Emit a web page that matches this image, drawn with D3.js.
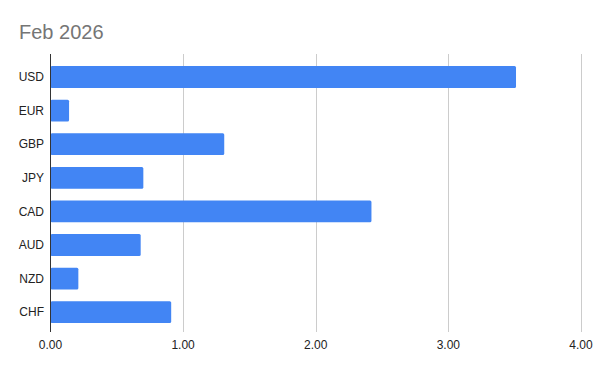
<!DOCTYPE html>
<html>
<head>
<meta charset="utf-8">
<script src="https://cdn.jsdelivr.net/npm/d3@7"></script>
<style>
  body { margin: 0; background: #fff; }
  svg { display: block; font-family: "Liberation Sans", Arial, sans-serif; }
</style>
</head>
<body>
<svg id="chart" width="600" height="371"></svg>
<script>
// currencies and values
var currencies = ["USD", "EUR", "GBP", "JPY", "CAD", "AUD", "NZD", "CHF"];
var values = [3.51, 0.14, 1.31, 0.70, 2.42, 0.68, 0.21, 0.91];
var xTicks = [0, 1, 2, 3, 4];

var svg = d3.select("#chart");

var x = d3.scaleLinear().domain([0, 4]).range([50.5, 581]);
var y = d3.scaleBand().domain(currencies).range([60.2, 329]).paddingInner(0.35).paddingOuter(0.175);

// title
svg.append("text")
    .attr("x", 19)
    .attr("y", 39)
    .style("font-size", "20px")
    .style("fill", "#757575")
    .text("Feb 2026");

// vertical gridlines
svg.append("g").selectAll("line")
    .data(xTicks.slice(1))
    .enter().append("line")
    .attr("x1", function (d) { return Math.round(x(d)) + 0.5; })
    .attr("x2", function (d) { return Math.round(x(d)) + 0.5; })
    .attr("y1", 54)
    .attr("y2", 332)
    .style("stroke", "#cccccc")
    .style("stroke-width", 1);

// bars
svg.append("g").selectAll("rect")
    .data(currencies)
    .enter().append("rect")
    .attr("x", x(0))
    .attr("y", function (d) { return y(d); })
    .attr("width", function (d, i) { return x(values[i]) - x(0); })
    .attr("height", y.bandwidth())
    .attr("rx", 1.5)
    .style("fill", "#4285f4");

// baseline
svg.append("line")
    .attr("x1", 50.5).attr("x2", 50.5)
    .attr("y1", 54).attr("y2", 332)
    .style("stroke", "#333333")
    .style("stroke-width", 1);

// category labels
svg.append("g").selectAll("text")
    .data(currencies)
    .enter().append("text")
    .attr("x", 44)
    .attr("y", function (d) { return y(d) + y.bandwidth() / 2; })
    .attr("dy", "0.35em")
    .attr("text-anchor", "end")
    .style("font-size", "12px")
    .style("fill", "#222222")
    .text(function (d) { return d; });

// x tick labels
svg.append("g").selectAll("text")
    .data(xTicks)
    .enter().append("text")
    .attr("x", function (d) { return x(d); })
    .attr("y", 349)
    .attr("text-anchor", "middle")
    .style("font-size", "12px")
    .style("fill", "#222222")
    .text(function (d) { return d3.format(".2f")(d); });
</script>
</body>
</html>
